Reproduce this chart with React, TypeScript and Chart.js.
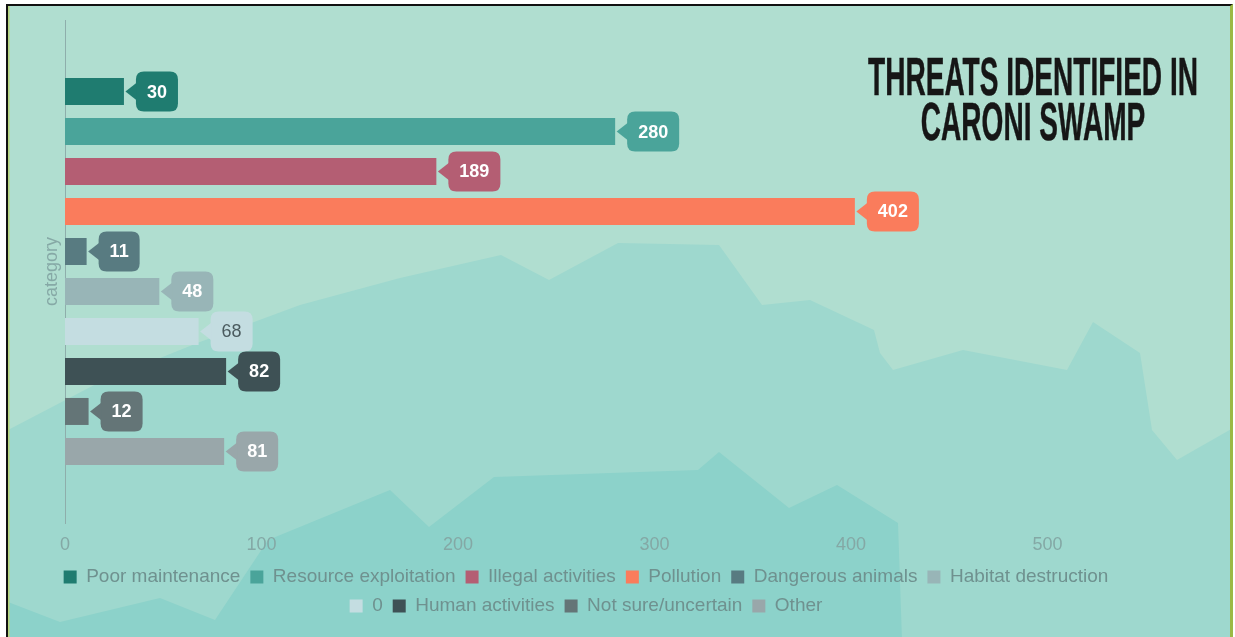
import React, { useEffect, useRef } from "react";
import { Chart, registerables } from "chart.js";

Chart.register(...registerables);

// ---------- data ----------
const categoryLabels = [""];
const axisTitle = "category";
const seriesNames = [
  "Poor maintenance",
  "Resource exploitation",
  "Illegal activities",
  "Pollution",
  "Dangerous animals",
  "Habitat destruction",
  "0",
  "Human activities",
  "Not sure/uncertain",
  "Other",
];
const seriesValues = [30, 280, 189, 402, 11, 48, 68, 82, 12, 81];
const seriesColors = [
  "#1f7c70",
  "#4aa49a",
  "#b45e73",
  "#fa7c5c",
  "#587b81",
  "#98b5b7",
  "#c4dde1",
  "#3e5155",
  "#647577",
  "#99a7aa",
];
const labelTextColors = [
  "#ffffff",
  "#ffffff",
  "#ffffff",
  "#ffffff",
  "#ffffff",
  "#ffffff",
  "#4a5a5e",
  "#ffffff",
  "#ffffff",
  "#ffffff",
];
const xTickValues = [0, 100, 200, 300, 400, 500];
const xMax = 540;
const titleLines = ["THREATS IDENTIFIED IN", "CARONI SWAMP"];

// ---------- decorative background (page px) ----------
const PAGE_OFFSET_X = 8;
const PAGE_OFFSET_Y = 6;
const bgTop = "#b0ded0";
const bgMidColor = "#9ed8ce";
const bgLowColor = "#8cd2ca";
const bgMid: number[][] = [
  [8, 430], [100, 382], [200, 342], [300, 305], [400, 278], [501, 255], [549, 280],
  [618, 243], [719, 245], [762, 305], [810, 300], [874, 330], [880, 353], [893, 370],
  [963, 350], [1067, 370], [1093, 322], [1140, 353], [1152, 430], [1177, 460],
  [1235, 427], [1235, 640], [8, 640],
];
const bgLow: number[][] = [
  [8, 640], [8, 602], [60, 622], [160, 598], [215, 620], [268, 540], [390, 490],
  [429, 527], [494, 477], [698, 470], [719, 452], [789, 508], [837, 485], [898, 523],
  [902, 640],
];

const FONT = "'Liberation Sans', Arial, Helvetica, sans-serif";

function poly(ctx: CanvasRenderingContext2D, pts: number[][], color: string) {
  ctx.beginPath();
  pts.forEach((p, i) => (i === 0 ? ctx.moveTo(p[0], p[1]) : ctx.lineTo(p[0], p[1])));
  ctx.closePath();
  ctx.fillStyle = color;
  ctx.fill();
}

const backgroundPlugin = {
  id: "bgDecor",
  beforeDraw(chart: any) {
    const { ctx, width, height } = chart;
    ctx.save();
    ctx.fillStyle = bgTop;
    ctx.fillRect(0, 0, width, height);
    ctx.translate(-PAGE_OFFSET_X, -PAGE_OFFSET_Y);
    poly(ctx, bgMid, bgMidColor);
    poly(ctx, bgLow, bgLowColor);
    ctx.restore();
    ctx.save();
    ctx.fillStyle = "#b8d47c";
    ctx.fillRect(0, 0, 1.5, height);
    ctx.restore();
  },
};

function roundRect(ctx: CanvasRenderingContext2D, x: number, y: number, w: number, h: number, r: number) {
  ctx.moveTo(x + r, y);
  ctx.lineTo(x + w - r, y);
  ctx.quadraticCurveTo(x + w, y, x + w, y + r);
  ctx.lineTo(x + w, y + h - r);
  ctx.quadraticCurveTo(x + w, y + h, x + w - r, y + h);
  ctx.lineTo(x + r, y + h);
  ctx.quadraticCurveTo(x, y + h, x, y + h - r);
  ctx.lineTo(x, y + r);
  ctx.quadraticCurveTo(x, y, x + r, y);
}

const calloutPlugin = {
  id: "callouts",
  afterDatasetsDraw(chart: any) {
    const { ctx } = chart;
    chart.data.datasets.forEach((ds: any, i: number) => {
      const meta = chart.getDatasetMeta(i);
      if (meta.hidden) return;
      const el = meta.data[0];
      if (!el) return;
      const v = ds.data[0];
      const text = String(v);
      const bold = labelTextColors[i] === "#ffffff";
      ctx.save();
      ctx.font = `${bold ? "bold " : ""}18px ${FONT}`;
      const tw = ctx.measureText(text).width;
      const bx = el.x + 12;
      const bw = tw + 22;
      const bh = 40;
      const by = el.y - bh / 2;
      ctx.fillStyle = seriesColors[i];
      ctx.beginPath();
      roundRect(ctx, bx, by, bw, bh, 8);
      ctx.fill();
      ctx.beginPath();
      ctx.moveTo(el.x + 1.5, el.y);
      ctx.lineTo(bx + 1, el.y - 9);
      ctx.lineTo(bx + 1, el.y + 9);
      ctx.closePath();
      ctx.fill();
      ctx.fillStyle = labelTextColors[i];
      ctx.textAlign = "center";
      ctx.textBaseline = "middle";
      ctx.fillText(text, bx + bw / 2, el.y + 1);
      ctx.restore();
    });
  },
};

const titlePlugin = {
  id: "cornerTitle",
  afterDraw(chart: any) {
    const { ctx } = chart;
    ctx.save();
    ctx.font = `bold 53px 'Liberation Sans Narrow', 'Liberation Sans', Arial, sans-serif`;
    const w1 = ctx.measureText(titleLines[0]).width;
    const sx = 330 / w1;
    ctx.translate(1033 - PAGE_OFFSET_X, 0);
    ctx.scale(sx, 1);
    ctx.fillStyle = "#161616";
    ctx.strokeStyle = "#161616";
    ctx.lineWidth = 0.5;
    ctx.textAlign = "center";
    ctx.textBaseline = "alphabetic";
    ctx.fillText(titleLines[0], 0, 95 - PAGE_OFFSET_Y);
    ctx.strokeText(titleLines[0], 0, 95 - PAGE_OFFSET_Y);
    ctx.fillText(titleLines[1], 0, 140 - PAGE_OFFSET_Y);
    ctx.strokeText(titleLines[1], 0, 140 - PAGE_OFFSET_Y);
    ctx.restore();
  },
};

export default function App() {
  const ref = useRef<HTMLCanvasElement>(null);

  useEffect(() => {
    const canvas = ref.current;
    if (!canvas) return;
    const chart = new Chart(canvas, {
      type: "bar",
      data: {
        labels: categoryLabels,
        datasets: seriesNames.map((name, i) => ({
          label: name,
          data: [seriesValues[i]],
          backgroundColor: seriesColors[i],
          borderWidth: 0,
          barPercentage: 0.675,
          categoryPercentage: 0.795,
        })),
      },
      options: {
        indexAxis: "y",
        responsive: false,
        animation: false,
        devicePixelRatio: 1,
        layout: { padding: { left: 38, right: 104, top: 14, bottom: 11.5 } },
        font: { family: FONT },
        scales: {
          x: {
            type: "linear",
            min: 0,
            max: xMax,
            grid: { display: false, drawTicks: false },
            border: { display: false },
            ticks: {
              stepSize: 100,
              padding: 11,
              color: "#84a8a5",
              font: { size: 18, family: FONT },
              callback: (v: any) => (xTickValues.includes(Number(v)) ? String(v) : ""),
            },
            afterFit: (s: any) => {
              s.height = 34.5;
            },
          },
          y: {
            grid: { display: false, drawTicks: false },
            border: { display: true, dash: [3, 4], color: "#8eaeab", width: 1 },
            ticks: { display: false },
            title: {
              display: true,
              text: axisTitle,
              color: "#86a9a6",
              font: { size: 18, family: FONT },
              padding: { top: -5, bottom: 0 },
            },
            afterFit: (s: any) => {
              s.width = 19;
            },
          },
        },
        plugins: {
          legend: {
            position: "bottom",
            labels: {
              boxWidth: 13,
              boxHeight: 13,
              padding: 10,
              color: "#6f918f",
              font: { size: 19, family: FONT },
            },
          },
          tooltip: { enabled: false },
        },
      } as any,
      plugins: [backgroundPlugin, calloutPlugin, titlePlugin],
    });
    return () => chart.destroy();
  }, []);

  return (
    <div
      style={{
        position: "fixed",
        left: 0,
        top: 0,
        width: 1235,
        height: 637,
        background: "#ffffff",
        overflow: "hidden",
      }}
    >
      <div
        style={{
          position: "absolute",
          left: 6,
          top: 4,
          width: 1227,
          height: 640,
          boxSizing: "border-box",
          borderLeft: "2px solid #111",
          borderTop: "2px solid #111",
          borderRight: "3px solid #9cb945",
        }}
      >
        <canvas
          ref={ref}
          width={1222}
          height={631}
          style={{ display: "block", width: 1222, height: 631 }}
        />
      </div>
    </div>
  );
}
